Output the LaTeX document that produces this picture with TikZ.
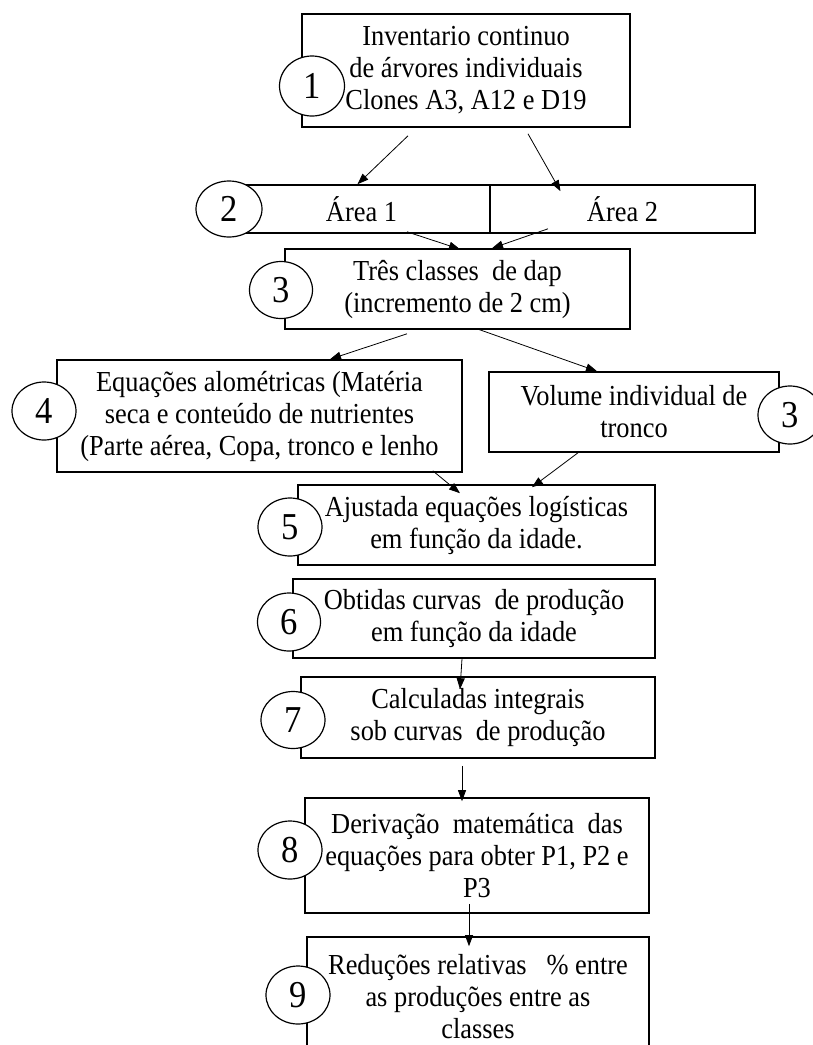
\documentclass[tikz,border=0pt]{standalone}
\usepackage{fontspec}
\setmainfont{Liberation Serif}[FakeStretch=0.91]
\usepackage{tikz}
\usetikzlibrary{arrows.meta,calc,shapes.geometric}

\begin{document}
\begin{tikzpicture}[x=1pt, y=-1pt,
        box/.style={draw, line width=1.6pt, rectangle, align=center, inner sep=0pt, font=\fontsize{29}{32}\selectfont},
        num/.style={draw, ellipse, line width=1.2pt, fill=white, inner sep=0pt, font=\fontsize{38}{40}\selectfont},
        arr/.style={-{Triangle[length=11pt,width=8pt]}, line width=0.8pt}]
        \useasboundingbox (0,0) rectangle (813,1045);
        \clip (0,0) rectangle (813,1045);
        % boxes
        \node (1) at (466, 70.5) [box, minimum width=328, minimum height=113] {Inventario continuo\\de árvores individuais\\Clones A3, A12 e D19};
        \node (2a) at (361.5, 209) [box, minimum width=257, minimum height=48] {Área 1};
        \node (2b) at (622.5, 209) [box, minimum width=265, minimum height=48] {Área 2};
        \node (3) at (457.5, 289) [box, minimum width=345, minimum height=80] {Três classes~ de dap\\(incremento de 2 cm)};
        \node (4) at (259.5, 416) [box, minimum width=405, minimum height=112] {Equações alométricas (Matéria\\seca e conteúdo de nutrientes\\(Parte aérea, Copa, tronco e lenho};
        \node (vol) at (634, 412) [box, minimum width=290, minimum height=80] {Volume individual de\\tronco};
        \node (5) at (476.5, 525) [box, minimum width=357, minimum height=80] {Ajustada equações logísticas\\em função da idade.};
        \node (6) at (474, 618.5) [box, minimum width=362, minimum height=79] {Obtidas curvas~ de produção\\em função da idade};
        \node (7) at (478, 717.5) [box, minimum width=354, minimum height=81] {Calculadas integrais\\sob curvas~ de produção};
        \node (8) at (477, 855.5) [box, minimum width=344, minimum height=115] {Derivação~ matemática~ das\\equações para obter P1, P2 e\\P3};
        \node (9) at (478, 997) [box, minimum width=342, minimum height=120] {Reduções relativas~~ \% entre\\as produções entre as\\classes};
        % numbers
        \node (c1) at (312, 86) [num, minimum width=65, minimum height=60] {1};
        \node (c2) at (229, 209) [num, minimum width=66, minimum height=56] {2};
        \node (c3) at (281, 290) [num, minimum width=63, minimum height=57] {3};
        \node (c4) at (44, 411) [num, minimum width=64, minimum height=58] {4};
        \node (cv) at (790, 415) [num, minimum width=64, minimum height=58] {3};
        \node (c5) at (290, 527) [num, minimum width=64, minimum height=58] {5};
        \node (c6) at (289, 622) [num, minimum width=63, minimum height=58] {6};
        \node (c7) at (293, 720) [num, minimum width=64, minimum height=57] {7};
        \node (c8) at (290, 850) [num, minimum width=64, minimum height=58] {8};
        \node (c9) at (298, 995) [num, minimum width=64, minimum height=58] {9};
        % arrows
        \draw [arr] ($(1.south)+(-58,8)$) -- ($(2a.north)+(-4,0)$);
        \draw [arr] ($(1.south)+(62,6)$) -- ($(2b.north)+(-62,7)$);
        \draw [arr] ($(2a.south)+(45.5,-2)$) -- ($(3.north)+(2.5,1)$);
        \draw [arr] ($(2b.south)+(-74.5,-5)$) -- ($(3.north)+(34.5,0)$);
        \draw [arr] ($(3.south)+(-50.5,4)$) -- ($(4.north)+(70.5,0)$);
        \draw [arr] ($(3.south)+(19.5,-1)$) -- ($(vol.north)+(-37,0)$);
        \draw [arr] ($(4.south east)+(-30,-2)$) -- ($(5.north)+(-16.5,9)$);
        \draw [arr] ($(vol.south)+(-56,0)$) -- ($(5.north)+(55.5,3)$);
        \draw [arr] ($(6.south)+(-12,0)$) -- ($(7.north)+(-18,13)$);
        \draw [arr] ($(7.south)+(-16,7)$) -- ($(8.north)+(-15,4)$);
        \draw [arr] ($(8.south)+(-8,-10)$) -- ($(9.north)+(-9,10)$);
    \end{tikzpicture}
\end{document}
